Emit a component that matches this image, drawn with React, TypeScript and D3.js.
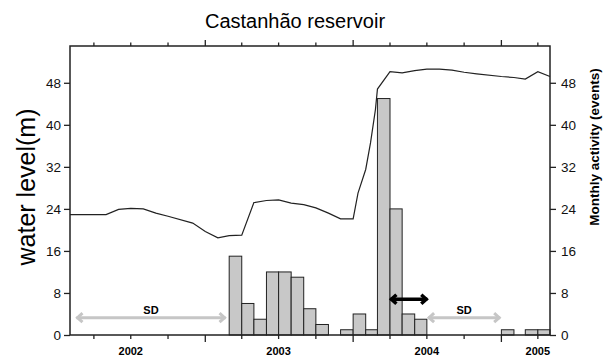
import React, { useEffect, useRef } from 'react';
import * as d3 from 'd3';

const parseDay = d3.timeParse('%Y-%m-%d');

// monthly activity (events)
const eventMonths = [
    '2003-03-01', '2003-04-01', '2003-05-01', '2003-06-01', '2003-07-01', '2003-08-01',
    '2003-09-01', '2003-10-01', '2003-11-01', '2003-12-01', '2004-01-01', '2004-02-01',
    '2004-03-01', '2004-04-01', '2004-05-01', '2004-06-01', '2005-01-01', '2005-03-01',
    '2005-04-01'
];
const eventCounts = [15, 6, 3, 12, 12, 11, 5, 2, 0, 1, 4, 1, 45, 24, 4, 3, 1, 1, 1];

// water level (m)
const levelDates = [
    '2002-02-01', '2002-05-01', '2002-06-01', '2002-07-01', '2002-08-01', '2002-09-01',
    '2002-10-01', '2002-12-01', '2003-01-01', '2003-02-01', '2003-03-01', '2003-04-01',
    '2003-05-01', '2003-06-01', '2003-07-01', '2003-08-01', '2003-09-01', '2003-10-01',
    '2003-11-01', '2003-12-01', '2004-01-01', '2004-01-13', '2004-02-01', '2004-02-13',
    '2004-02-25', '2004-03-01', '2004-04-01', '2004-05-01', '2004-06-01', '2004-07-01',
    '2004-08-01', '2004-09-01', '2004-10-01', '2004-11-01', '2005-01-01', '2005-02-01',
    '2005-03-01', '2005-04-01', '2005-05-01'
];
const levelValues = [
    22.9, 22.9, 23.9, 24.1, 24.0, 23.2,
    22.6, 21.3, 19.7, 18.5, 18.9, 19.0,
    25.2, 25.6, 25.7, 25.1, 24.8, 24.2,
    23.2, 22.1, 22.1, 27.0, 31.5, 36.6,
    42.9, 46.8, 50.1, 49.9, 50.3, 50.6,
    50.6, 50.4, 50.0, 49.7, 49.2, 49.0,
    48.7, 50.1, 49.2
];

const yTicks = [0, 8, 16, 24, 32, 40, 48];
const yearLabels = ['2002', '2003', '2004', '2005'];
const yearLabelDates = ['2002-07-01', '2003-07-01', '2004-07-01', '2005-04-01'];

// SD periods and the filling arrow
const sdStarts = ['2002-02-17', '2004-07-04'];
const sdEnds = ['2003-02-20', '2004-12-29'];
const sdLevel = 3.3;
const fillStart = '2004-04-02';
const fillEnd = '2004-07-02';
const fillLevel = 6.8;

const font = '"Liberation Sans", Arial, Helvetica, sans-serif';

function App() {
    const chRef = useRef<SVGSVGElement>(null);

    useEffect(() => {
        const svg = d3.select(chRef.current);
        svg.selectAll('*').remove();

        const left = 70, right = 550, top = 46, bottom = 335;

        const x = d3.scaleTime()
            .domain([parseDay('2002-02-01')!, parseDay('2005-05-01')!])
            .range([left, right]);
        const y = d3.scaleLinear().domain([0, 55]).range([bottom, top]);

        // title
        svg.append('text')
            .attr('x', 295).attr('y', 28)
            .attr('text-anchor', 'middle')
            .style('font-family', font).style('font-size', '20px')
            .text('Castanhão reservoir');

        // bars
        const bars = eventMonths.map((m, i) => ({ d: parseDay(m)!, v: eventCounts[i] }));
        svg.append('g').selectAll('rect')
            .data(bars.filter(b => b.v > 0))
            .enter()
            .append('rect')
            .attr('x', b => x(b.d))
            .attr('y', b => y(b.v))
            .attr('width', b => x(d3.timeMonth.offset(b.d, 1)) - x(b.d))
            .attr('height', b => bottom - y(b.v))
            .attr('fill', '#c8c8c8')
            .attr('stroke', '#222')
            .attr('stroke-width', 1);

        // water level line
        const pts = levelDates.map((d, i) => [x(parseDay(d)!), y(levelValues[i])] as [number, number]);
        svg.append('path')
            .attr('d', d3.line()(pts))
            .attr('fill', 'none')
            .attr('stroke', '#222')
            .attr('stroke-width', 1.2);

        // arrows
        const arrow = (x0: number, x1: number, yy: number, color: string, w: number) => {
            const g = svg.append('g').attr('stroke', color).attr('stroke-width', w).attr('fill', 'none');
            g.append('line').attr('x1', x0).attr('x2', x1).attr('y1', yy).attr('y2', yy);
            g.append('path').attr('d', `M${x0 + 6},${yy - 4.5}L${x0 + 1},${yy}L${x0 + 6},${yy + 4.5}`);
            g.append('path').attr('d', `M${x1 - 6},${yy - 4.5}L${x1 - 1},${yy}L${x1 - 6},${yy + 4.5}`);
        };
        sdStarts.forEach((s, i) => {
            const x0 = x(parseDay(s)!), x1 = x(parseDay(sdEnds[i])!);
            arrow(x0, x1, y(sdLevel), '#c6c6c6', 3);
            svg.append('text')
                .attr('x', (x0 + x1) / 2).attr('y', y(sdLevel) - 4)
                .attr('text-anchor', 'middle')
                .style('font-family', font).style('font-size', '11px').style('font-weight', 'bold')
                .text('SD');
        });
        arrow(x(parseDay(fillStart)!), x(parseDay(fillEnd)!), y(fillLevel), '#000', 3.5);

        // frame
        svg.append('rect')
            .attr('x', left).attr('y', top)
            .attr('width', right - left).attr('height', bottom - top)
            .attr('fill', 'none').attr('stroke', '#222').attr('stroke-width', 1.5);

        // time ticks, top and bottom
        const ticks = x.ticks(d3.timeMonth.every(3)!);
        const tk = svg.append('g').attr('stroke', '#222').attr('stroke-width', 1.3);
        tk.selectAll('.tb').data(ticks).enter().append('line')
            .attr('x1', d => x(d)).attr('x2', d => x(d))
            .attr('y1', bottom).attr('y2', d => bottom + (d.getMonth() === 0 ? 7 : 4));
        tk.selectAll('.tt').data(ticks).enter().append('line')
            .attr('x1', d => x(d)).attr('x2', d => x(d))
            .attr('y1', top).attr('y2', d => top - (d.getMonth() === 0 ? 6 : 3.5));

        svg.append('g').selectAll('text')
            .data(yearLabels)
            .enter()
            .append('text')
            .attr('x', (d, i) => x(parseDay(yearLabelDates[i])!))
            .attr('y', 355)
            .attr('text-anchor', 'middle')
            .style('font-family', font).style('font-size', '11px').style('font-weight', 'bold')
            .text(d => d);

        // y axes
        const yl = svg.append('g')
            .attr('transform', `translate(${left},0)`)
            .call(d3.axisLeft(y).tickValues(yTicks).tickSize(6).tickPadding(3));
        const yr = svg.append('g')
            .attr('transform', `translate(${right},0)`)
            .call(d3.axisRight(y).tickValues(yTicks).tickSize(6).tickPadding(5));
        [yl, yr].forEach(g => {
            g.select('.domain').remove();
            g.selectAll('line').attr('stroke', '#222').attr('stroke-width', 1.3);
            g.selectAll('text').style('font-family', font).style('font-size', '13.5px').attr('fill', '#111');
        });

        // axis titles
        svg.append('text')
            .attr('transform', 'translate(35,187) rotate(-90)')
            .attr('text-anchor', 'middle')
            .style('font-family', font).style('font-size', '25px')
            .text('water level(m)');
        svg.append('text')
            .attr('transform', 'translate(599,147) rotate(-90)')
            .attr('text-anchor', 'middle')
            .style('font-family', font).style('font-size', '13.5px').style('font-weight', 'bold')
            .text('Monthly activity (events)');
    }, []);

    return (
        <svg ref={chRef} width={603} height={357}
            style={{ position: 'absolute', left: 0, top: 0, background: '#fff' }} />
    );
}

export default App;
